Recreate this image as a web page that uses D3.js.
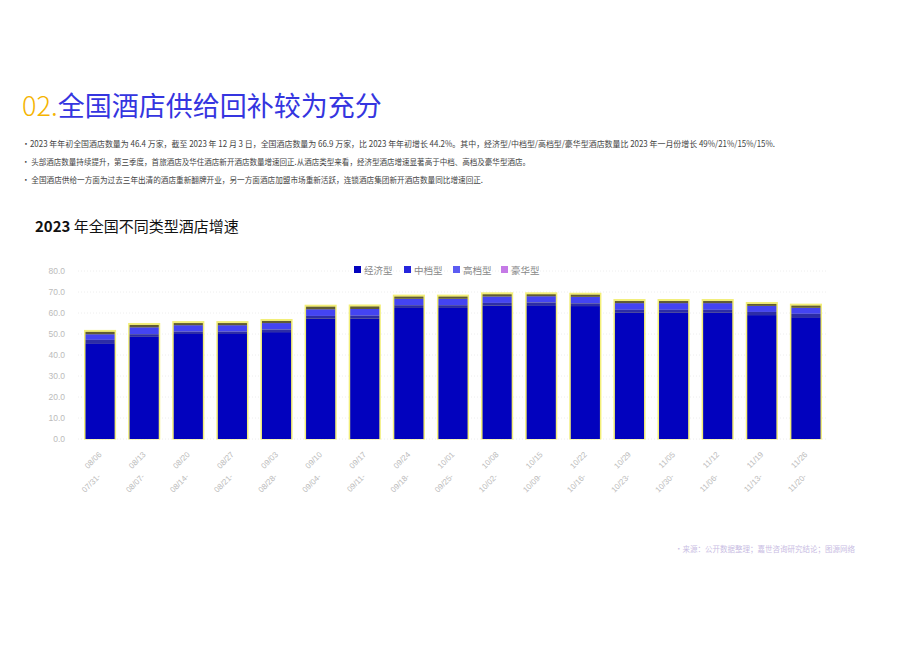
<!DOCTYPE html>
<html>
<head>
<meta charset="utf-8">
<script src="https://cdn.jsdelivr.net/npm/d3@7"></script>
<style>
  body { margin: 0; background: #fff; }
  svg text { font-family: "Noto Sans CJK SC", "Noto Sans", sans-serif; }
</style>
</head>
<body>
<svg id="chart"></svg>
<script>
// week labels (two lines each)
const weekStart = ['07/31-', '08/07-', '08/14-', '08/21-', '08/28-', '09/04-', '09/11-', '09/18-', '09/25-',
  '10/02-', '10/09-', '10/16-', '10/23-', '10/30-', '11/06-', '11/13-', '11/20-'];
const weekEnd = ['08/06', '08/13', '08/20', '08/27', '09/03', '09/10', '09/17', '09/24', '10/01',
  '10/08', '10/15', '10/22', '10/29', '11/05', '11/12', '11/19', '11/26'];

const seriesNames = ['经济型', '中档型', '高档型', '豪华型'];
const economy = [45.6, 48.9, 50.0, 50.0, 50.9, 57.3, 57.4, 62.4, 62.4, 63.5, 63.7, 63.3, 60.1, 60.1, 60.1, 59.0, 58.0];
const midscale = [1.6, 1.0, 1.1, 1.1, 1.2, 1.3, 1.3, 1.3, 1.3, 1.3, 1.3, 1.3, 1.4, 1.4, 1.4, 1.5, 1.6];
const upscale = [2.7, 3.3, 3.1, 3.1, 3.1, 3.2, 3.2, 3.1, 3.1, 3.1, 3.0, 3.1, 3.2, 3.2, 3.2, 2.9, 2.9];
const luxury = [1.1, 1.1, 1.0, 1.0, 1.0, 1.2, 1.2, 1.0, 1.0, 1.0, 0.9, 1.0, 1.0, 1.0, 1.0, 0.9, 1.0];
const yTicks = [0, 10, 20, 30, 40, 50, 60, 70, 80];

const bullets = [
  '・2023 年年初全国酒店数量为 46.4 万家，截至 2023 年 12 月 3 日，全国酒店数量为 66.9 万家，比 2023 年年初增长 44.2%。其中，经济型/中档型/高档型/豪华型酒店数量比 2023 年一月份增长 49%/21%/15%/15%.',
  '· 头部酒店数量持续提升，第三季度，首旅酒店及华住酒店新开酒店数量增速回正.从酒店类型来看，经济型酒店增速显著高于中档、高档及豪华型酒店。',
  '· 全国酒店供给一方面为过去三年出清的酒店重新翻牌开业，另一方面酒店加盟市场重新活跃，连锁酒店集团新开酒店数量同比增速回正.'
];

const size = {w: 920, h: 651};
const svg = d3.select('svg#chart')
  .attr('width', size.w)
  .attr('height', size.h);

// PAGE HEADER
const title = svg.append('text')
  .attr('x', 22)
  .attr('y', 116)
  .style('font-size', '27px');
title.append('tspan')
  .attr('fill', '#f5b400')
  .style('font-weight', 300)
  .text('02.');
title.append('tspan')
  .attr('fill', '#3535e0')
  .text('全国酒店供给回补较为充分');

const bulletWidths = [753, 508, 461];
svg.append('g')
  .selectAll('text')
  .data(bullets)
  .join('text')
  .attr('x', 22)
  .attr('y', (d, i) => 147 + i * 18)
  .attr('textLength', (d, i) => bulletWidths[i])
  .attr('lengthAdjust', 'spacingAndGlyphs')
  .attr('fill', '#444')
  .style('font-size', '8.5px')
  .text(d => d);

const chartTitle = svg.append('text')
  .attr('x', 35)
  .attr('y', 232)
  .attr('fill', '#111')
  .style('font-size', '15px');
chartTitle.append('tspan').style('font-weight', 700).text('2023 ');
chartTitle.append('tspan').text('年全国不同类型酒店增速');

// CHART
const plot = {l: 78, r: 828, t: 271, b: 439};

const x = d3.scaleBand()
  .domain(weekEnd)
  .range([plot.l, plot.r])
  .paddingInner(0.34)
  .paddingOuter(0.17);

const y = d3.scaleLinear()
  .domain([0, 80])
  .range([plot.b, plot.t]);

const barColors = ['#0202be', '#2d2da6', '#4444f2', '#5e5a36'];
const legendColors = ['#0202be', '#2525dc', '#5c5cf2', '#c57ae6'];

// gridlines
svg.append('g')
  .selectAll('line')
  .data(yTicks)
  .join('line')
  .attr('x1', plot.l)
  .attr('x2', plot.r)
  .attr('y1', d => y(d))
  .attr('y2', d => y(d))
  .attr('stroke', '#eee')
  .attr('stroke-dasharray', '1,2');

// y axis labels
const yAxis = svg.append('g')
  .attr('transform', `translate(${plot.l - 10}, 0)`)
  .call(d3.axisLeft(y).tickValues(yTicks).tickFormat(d3.format('.1f')).tickSize(0));
yAxis.select('.domain').remove();
yAxis.selectAll('text')
  .attr('fill', '#bbb')
  .style('font-size', '8.5px')
  .style('font-family', 'Liberation Sans, Arial, sans-serif');

// stacked data
const rows = weekEnd.map((w, i) => ({
  week: w,
  '经济型': economy[i],
  '中档型': midscale[i],
  '高档型': upscale[i],
  '豪华型': luxury[i]
}));
const stack = d3.stack().keys(seriesNames)(rows);

// yellow halo behind each bar
svg.append('g')
  .selectAll('rect')
  .data(rows)
  .join('rect')
  .attr('x', d => x(d.week) - 1.5)
  .attr('width', x.bandwidth() + 3)
  .attr('y', (d, i) => y(stack[3][i][1]) - 2)
  .attr('height', (d, i) => y(0) - y(stack[3][i][1]) + 2.5)
  .attr('fill', '#f2ee78');

svg.append('g')
  .selectAll('g')
  .data(stack)
  .join('g')
  .attr('fill', (d, i) => barColors[i])
  .selectAll('rect')
  .data(d => d)
  .join('rect')
  .attr('x', d => x(d.data.week))
  .attr('width', x.bandwidth())
  .attr('y', d => y(d[1]))
  .attr('height', d => y(d[0]) - y(d[1]));

// x labels
const xLab = svg.append('g')
  .selectAll('g')
  .data(weekEnd)
  .join('g')
  .attr('transform', d => `translate(${x(d) + x.bandwidth() / 2}, 0)`);
xLab.append('text')
  .attr('transform', 'translate(2, 455) rotate(-45)')
  .attr('text-anchor', 'end')
  .attr('fill', '#bbb')
  .style('font-size', '8px')
  .style('font-family', 'Liberation Sans, Arial, sans-serif')
  .text(d => d);
xLab.append('text')
  .attr('transform', 'translate(1, 477) rotate(-45)')
  .attr('text-anchor', 'end')
  .attr('fill', '#bbb')
  .style('font-size', '8px')
  .style('font-family', 'Liberation Sans, Arial, sans-serif')
  .text((d, i) => weekStart[i]);

// legend
const legendX = [354, 404, 453, 501];
const legend = svg.append('g')
  .selectAll('g')
  .data(seriesNames)
  .join('g')
  .attr('transform', (d, i) => `translate(${legendX[i]}, 270)`);
legend.append('rect')
  .attr('x', 0)
  .attr('y', -4)
  .attr('width', 7)
  .attr('height', 7)
  .attr('fill', (d, i) => legendColors[i]);
legend.append('text')
  .attr('x', 10)
  .attr('y', 3.5)
  .attr('fill', '#888')
  .style('font-size', '9.5px')
  .text(d => d);

// source
svg.append('text')
  .attr('x', 675)
  .attr('y', 552)
  .attr('textLength', 180)
  .attr('lengthAdjust', 'spacingAndGlyphs')
  .attr('fill', '#c9bde3')
  .style('font-size', '8px')
  .text('•来源：公开数据整理；嘉世咨询研究结论；图源网络');
</script>
</body>
</html>
